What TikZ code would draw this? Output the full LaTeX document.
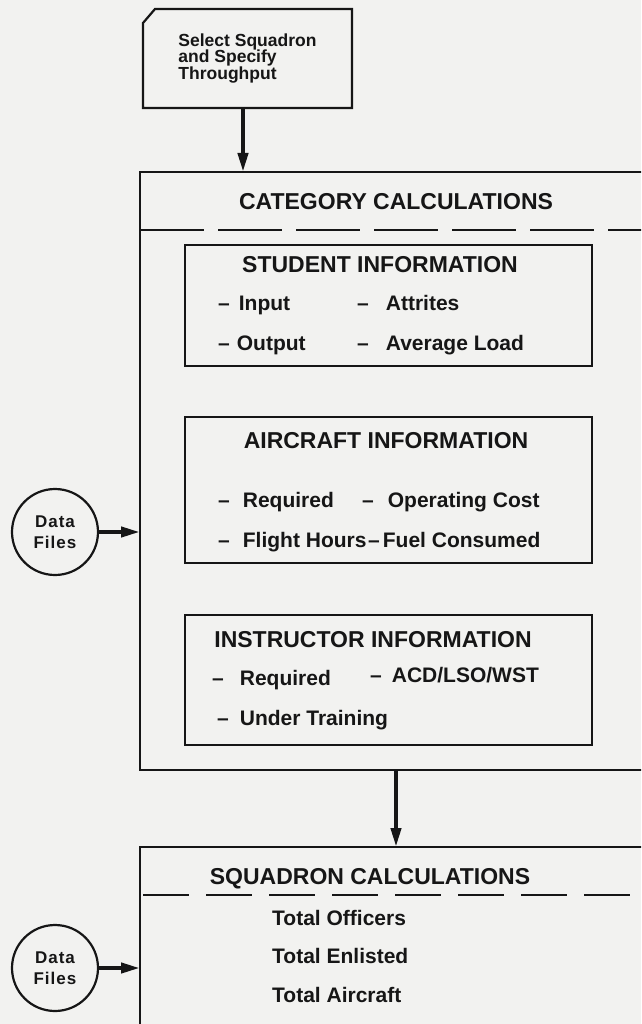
\documentclass[tikz,border=0pt]{standalone}
\usepackage{fontspec}
\setmainfont{Liberation Sans}
\newfontfamily\dffont[LetterSpace=6]{Liberation Sans}
\usetikzlibrary{arrows.meta}
\definecolor{paper}{RGB}{242,242,240}
\definecolor{ink}{RGB}{22,22,22}
\newcommand\itm[2]{\textendash\hspace{#1pt}#2}
\begin{document}
\begin{tikzpicture}[x=1pt,y=-1pt,
  bigbox/.style={draw=ink, line width=2.2pt, rectangle, inner sep=0pt, outer sep=0pt, anchor=north west, minimum width=560pt},
  infobox/.style={draw=ink, line width=2pt, rectangle, inner sep=0pt, outer sep=0pt, anchor=north west, minimum width=407pt},
  ttl/.style={font=\fontsize{23}{27}\selectfont\bfseries, anchor=base, inner sep=0pt, text=ink},
  itext/.style={font=\fontsize{21}{25}\selectfont\bfseries, anchor=base west, inner sep=0pt, text=ink},
  arr/.style={draw=ink, line width=4pt, -{Triangle[length=19pt,width=10pt]}},
  hdash/.style={draw=ink, line width=2pt},
  dfile/.style={circle, draw=ink, line width=2.2pt, minimum size=86pt, inner sep=0pt, outer sep=0pt, align=center, text=ink, font=\dffont\bfseries\fontsize{17}{21}\selectfont}
]
\useasboundingbox (0,0) rectangle (641,1024);
\fill[paper] (0,0) rectangle (641,1024);
\begin{scope}
\clip (0,0) rectangle (641,1024);

% top input box (cut corner)
\node[minimum width=209pt, minimum height=99pt, inner sep=0pt, outer sep=0pt, anchor=north west, align=left, text=ink,
      font=\fontsize{17.5}{16.7}\selectfont\bfseries] (sel) at (143,9) {Select Squadron\\and Specify\\Throughput};
\draw[draw=ink, line width=2.2pt, line join=miter] (sel.south west) -- (sel.south east) -- (sel.north east)
   -- ([xshift=12pt]sel.north west) -- ([yshift=-14pt]sel.north west) -- cycle;

% category calculations box
\node[bigbox, minimum height=598pt] (cat) at (140,172) {};
\node[ttl] (cattl) at (396,210) {CATEGORY CALCULATIONS};
\coordinate (cdl) at (140,230);
\draw[hdash, dash pattern=on 64pt off 14pt] (cdl) -- ++(560,0);

% student information
\node[infobox, minimum height=121pt] (stud) at (185,245) {};
\node[ttl] (studt) at (380,272) {STUDENT INFORMATION};
\node[itext] (s1) at (218,310) {\itm{9}{Input}};
\node[itext] (s2) at (357,310) {\itm{17}{Attrites}};
\node[itext] (s3) at (218,350) {\itm{7}{Output}};
\node[itext] (s4) at (357,350) {\itm{17}{Average Load}};

% aircraft information
\node[infobox, minimum height=146pt] (air) at (185,417) {};
\node[ttl] (airt) at (386,448) {AIRCRAFT INFORMATION};
\node[itext] (a1) at (218,507) {\itm{13}{Required}};
\node[itext] (a2) at (362,507) {\itm{14}{Operating Cost}};
\node[itext] (a3) at (218,547) {\itm{13}{Flight Hours}};
\node[itext] (a4) at (368,547) {\itm{3}{Fuel Consumed}};

% instructor information
\node[infobox, minimum height=130pt] (inst) at (185,615) {};
\node[ttl] (instt) at (373,647) {INSTRUCTOR INFORMATION};
\node[itext] (i1) at (212,685) {\itm{16}{Required}};
\node[itext] (i2) at (370,682) {\itm{10}{ACD/LSO/WST}};
\node[itext] (i3) at (217,725) {\itm{11}{Under Training}};

% squadron calculations box
\node[bigbox, minimum height=260pt] (sq) at (140,847) {};
\node[ttl] (sqt) at (370,884) {SQUADRON CALCULATIONS};
\coordinate (sdl) at (143,895);
\draw[hdash, dash pattern=on 46pt off 17pt] (sdl) -- ++(560,0);
\node[itext] (t1) at (272,925) {Total Officers};
\node[itext] (t2) at (272,963) {Total Enlisted};
\node[itext] (t3) at (272,1002) {Total Aircraft};

% data files
\node[dfile] (df1) at (55,532) {Data\\Files};
\node[dfile] (df2) at (55,968) {Data\\Files};

% connectors
\coordinate (xa) at (243,0);
\coordinate (xm) at (396,0);
\draw[arr] (sel.south -| xa) -- (cat.north -| xa);
\draw[arr] (cat.south -| xm) -- (sq.north -| xm);
\draw[arr] (df1.east) -- (df1.east -| cat.west);
\draw[arr] (df2.east) -- (df2.east -| sq.west);
\end{scope}
\end{tikzpicture}
\end{document}
